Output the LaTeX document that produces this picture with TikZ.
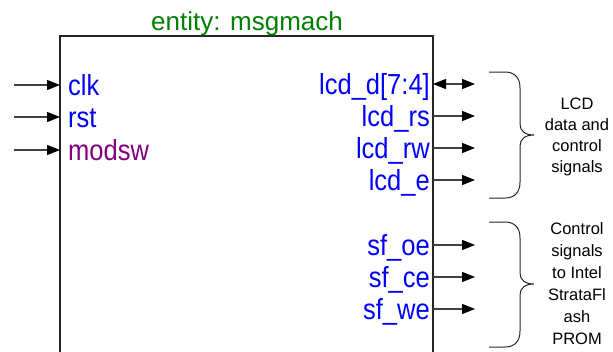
\documentclass[tikz,border=0pt]{standalone}
\usepackage{fontspec}
\setmainfont{Liberation Sans}
\newfontfamily\portfont[FakeStretch=0.88]{Liberation Sans}
\usetikzlibrary{arrows.meta}
\definecolor{portblue}{RGB}{0,0,255}
\definecolor{portpurple}{RGB}{128,0,128}
\definecolor{titlegreen}{RGB}{0,128,0}
\tikzset{
  headtip/.tip={Triangle[length=13pt,width=10pt,color=black]}
}
\begin{document}
\begin{tikzpicture}[x=1pt,y=-1pt,
  boxline/.style={draw=black!85, line width=1.2pt},
  wire/.style={draw=black!75, line width=1.1pt},
  inarrow/.style={wire, -headtip},
  bidiarrow/.style={wire, headtip-headtip},
  bracket/.style={draw=black!85, line width=1pt},
  port/.style={font=\portfont\fontsize{29}{29}\selectfont, text=portblue, inner sep=0pt},
  title/.style={font=\fontsize{26}{26}\selectfont, text=titlegreen, inner sep=0pt},
  note/.style={font=\fontsize{16.5}{21}\selectfont, align=center, inner sep=0pt}
]
\useasboundingbox (0,0) rectangle (613,351);

% entity outline (continues below the lower edge)
\draw[boxline] (60,360) -- (60,36) -- (433,36) -- (433,360);
\node[title, anchor=base] (ttl) at (247,30) {entity: msgmach};

% input ports
\coordinate (clk-src) at (14,85);   \coordinate (clk-pin) at (60,85);
\coordinate (rst-src) at (14,117);  \coordinate (rst-pin) at (60,117);
\coordinate (mod-src) at (14,150);  \coordinate (mod-pin) at (60,150);
\node[port, anchor=base west] (clk) at (68,95) {clk};
\node[port, anchor=base west] (rst) at (68,127) {rst};
\node[port, anchor=base west, text=portpurple] (modsw) at (68,160) {modsw};
\draw[inarrow] (clk-src) -- (clk-pin);
\draw[inarrow] (rst-src) -- (rst-pin);
\draw[inarrow] (mod-src) -- (mod-pin);

% LCD ports
\coordinate (lcdd-pin) at (433,84);   \coordinate (lcdd-dst) at (475,84);
\coordinate (lcdrs-pin) at (433,116); \coordinate (lcdrs-dst) at (475,116);
\coordinate (lcdrw-pin) at (433,148); \coordinate (lcdrw-dst) at (475,148);
\coordinate (lcde-pin) at (433,180);  \coordinate (lcde-dst) at (475,180);
\node[port, anchor=base east] (lcdd) at (430,94) {lcd\_d[7:4]};
\node[port, anchor=base east] (lcdrs) at (430,126) {lcd\_rs};
\node[port, anchor=base east] (lcdrw) at (430,158) {lcd\_rw};
\node[port, anchor=base east] (lcde) at (430,190) {lcd\_e};
\draw[bidiarrow] (lcdd-pin) -- (lcdd-dst);
\draw[inarrow] (lcdrs-pin) -- (lcdrs-dst);
\draw[inarrow] (lcdrw-pin) -- (lcdrw-dst);
\draw[inarrow] (lcde-pin) -- (lcde-dst);

% flash ports
\coordinate (sfoe-pin) at (433,245); \coordinate (sfoe-dst) at (475,245);
\coordinate (sfce-pin) at (433,277); \coordinate (sfce-dst) at (475,277);
\coordinate (sfwe-pin) at (433,309); \coordinate (sfwe-dst) at (475,309);
\node[port, anchor=base east] (sfoe) at (430,255) {sf\_oe};
\node[port, anchor=base east] (sfce) at (430,287) {sf\_ce};
\node[port, anchor=base east] (sfwe) at (430,319) {sf\_we};
\draw[inarrow] (sfoe-pin) -- (sfoe-dst);
\draw[inarrow] (sfce-pin) -- (sfce-dst);
\draw[inarrow] (sfwe-pin) -- (sfwe-dst);

% curly braces grouping the outputs
\draw[bracket] (489,72) -- (505,72) .. controls (515,72) and (520,78) .. (520,88)
  -- (520,124) .. controls (520,131) and (525,135) .. (534,135)
  .. controls (525,135) and (520,139) .. (520,146)
  -- (520,182) .. controls (520,192) and (515,198) .. (505,198) -- (489,198);
\draw[bracket] (489,222) -- (505,222) .. controls (515,222) and (520,228) .. (520,238)
  -- (520,273) .. controls (520,280) and (525,284) .. (534,284)
  .. controls (525,284) and (520,288) .. (520,295)
  -- (520,331) .. controls (520,341) and (515,347) .. (505,347) -- (489,347);

\node[note] (lcdnote) at (577,137) {LCD\\data and\\control\\signals};
\node[note, font=\fontsize{16.5}{22}\selectfont] (flashnote) at (577,284)
  {Control\\signals\\to Intel\\StrataFl\\ash\\PROM};
\end{tikzpicture}
\end{document}
